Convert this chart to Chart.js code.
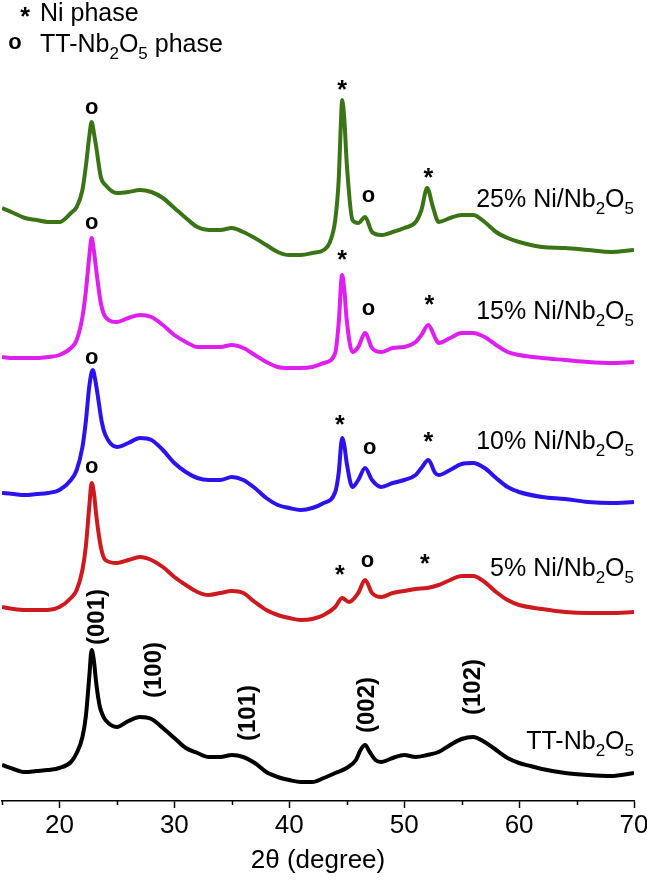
<!DOCTYPE html>
<html>
<head>
<meta charset="utf-8">
<script src="https://cdn.jsdelivr.net/npm/chart.js@4.4.0/dist/chart.umd.min.js"></script>
<style>
  html, body { margin: 0; padding: 0; background: #fff; overflow: hidden; }
  #wrap { width: 660px; height: 880px; }
</style>
</head>
<body>
<div id="wrap"><canvas id="xrd" width="660" height="880"></canvas></div>
<script>
// 1. DATA (2θ in degrees, intensity in a.u., each pattern stacked by an offset)
const sampleNames = ['TT-Nb_2O_5', '5% Ni/Nb_2O_5', '10% Ni/Nb_2O_5', '15% Ni/Nb_2O_5', '25% Ni/Nb_2O_5'];
const sampleColors = ['#000000', '#cc1a1f', '#2b12ee', '#dd1ff0', '#3b7417'];
const sampleOffsets = [0, 160, 270, 410, 540];

const angNb = [15,16,17,18,19,20,21,21.5,22,22.3,22.6,22.8,23,23.2,23.5,23.8,24,25,26,27,28,29,30,31,32,33,34,35,36,37,38,39,40,41,42,43,44,45,45.8,46.2,46.6,47,47.5,48,49,50,51,52,53,54,55,56,57,58,59,60,61,62,64,66,68,70];
const intNb = [36,32,29,30,31,33,39,48,64,85,125,151,140,118,95,85,81,74,80,84,82,73,63,53,48,44,44,46,44,38,29,24,21,19,19,23,28,33,41,51,56,49,41,39,43,46,44,46,49,56,62,64,59,51,43,38,35,32,28,26,25,28];

const ang5 = [15,16,17,18,19,20,21,21.5,22,22.3,22.6,22.8,23,23.2,23.6,24,25,26,27,28,29,30,31,32,33,34,35,36,37,38,39,40,41,42,43,44,44.6,45.2,46,46.6,47.2,48,49,50,51,52,53,54,55,56,57,58,59,60,62,64,66,68,70];
const int5 = [34,32,31,31,31,34,43,51,71,95,135,158,148,126,94,81,78,81,84,81,74,64,56,49,46,48,50,48,39,31,26,23,21,22,26,34,43,39,48,61,48,44,48,50,52,53,56,61,65,65,59,49,41,36,32,29,28,28,29];

const ang10 = [15,16,17,18,19,20,21,21.5,22,22.3,22.6,22.9,23.1,23.3,23.7,24,25,26,27,28,29,30,31,32,33,34,35,36,37,38,39,40,41,42,43,44,44.3,44.6,44.8,45,45.5,46,46.6,47.2,48,49,50,51,51.5,52.1,52.7,53,54,55,56,57,58,59,60,62,64,66,68,70];
const int10 = [38,37,36,37,38,41,51,61,84,110,145,161,152,138,108,96,84,88,93,91,81,68,59,53,51,51,54,51,43,33,26,23,21,23,28,39,58,93,85,68,44,51,63,51,44,48,51,56,63,71,58,56,61,67,68,63,53,44,39,34,32,29,28,29];

const ang15 = [15,16,17,18,19,20,21,21.5,22,22.3,22.6,22.8,23,23.2,23.6,24,25,26,27,28,29,30,31,32,33,34,35,36,37,38,39,40,41,42,43,44,44.3,44.6,44.8,45,45.5,46,46.6,47.2,48,49,50,51,51.5,52.1,52.7,53,54,55,56,57,58,59,60,62,64,66,68,70];
const int15 = [34,33,33,33,34,36,43,51,74,100,135,153,140,121,88,74,69,73,76,74,66,56,49,44,44,44,46,43,36,29,24,23,23,24,28,38,68,116,100,71,39,44,58,43,39,43,44,49,56,66,53,48,53,58,58,54,46,39,36,33,31,29,28,29];

const ang25 = [15,16,17,18,19,20,21,21.5,22,22.3,22.6,22.8,23,23.2,23.6,24,25,26,27,28,29,30,31,32,33,34,35,36,37,38,39,40,41,42,43,43.5,44,44.3,44.5,44.6,44.8,45,45.5,46,46.6,47.2,48,49,50,51,51.5,52,52.5,53,54,55,56,57,58,59,60,62,64,66,68,70];
const int25 = [53,48,43,41,39,39,48,54,71,95,125,139,128,114,84,76,68,69,71,69,63,53,43,34,31,31,33,29,23,16,9,6,6,8,11,18,41,81,140,161,140,98,41,38,44,29,26,29,33,39,51,73,54,39,43,46,46,39,29,23,19,14,13,11,9,11];

const sampleAngles = [angNb, ang5, ang10, ang15, ang25];
const sampleIntensities = [intNb, int5, int10, int15, int25];

// x axis
const xMin = 15, xMax = 70, xStep = 5;
const xTitle = '2θ (degree)';

// phase marks: [symbol, 2θ, level]
const phaseMarks = [
  ['o', 22.8, 693], ['*', 44.6, 716], ['o', 46.9, 605], ['*', 52.1, 628],
  ['o', 22.8, 578], ['*', 44.6, 546], ['o', 46.9, 492], ['*', 52.2, 501],
  ['o', 22.8, 443], ['*', 44.4, 381], ['o', 47.0, 353], ['*', 52.1, 364],
  ['o', 22.8, 334], ['*', 44.4, 231], ['o', 46.8, 240], ['*', 51.8, 242]
];
// hkl labels of TT-Nb2O5: [text, 2θ, level]
const hklMarks = [
  ['(001)', 23.3, 184], ['(100)', 28.25, 131], ['(101)', 36.4, 88],
  ['(002)', 46.8, 96], ['(102)', 56.0, 114]
];
// level of the sample name next to each pattern
const nameLevels = [61, 234, 361, 491, 603];
const legendItems = [['*', 'Ni phase'], ['o', 'TT-Nb_2O_5 phase']];

// 2. HELPERS
const FONT = '"Liberation Sans", Arial, sans-serif';
const isMajor = v => v % 10 === 0;

function drawCentered(ctx, s, px, py, font) {
  ctx.font = font;
  const m = ctx.measureText(s);
  ctx.textAlign = 'center';
  ctx.textBaseline = 'alphabetic';
  ctx.fillText(s, px, py + (m.actualBoundingBoxAscent - m.actualBoundingBoxDescent) / 2);
}

// '_' marks the next char as subscript
function splitRich(str) {
  const parts = [];
  for (let i = 0; i < str.length; i++) {
    if (str[i] === '_') { parts.push({ t: str[i + 1], sub: true }); i++; }
    else if (parts.length && !parts[parts.length - 1].sub) parts[parts.length - 1].t += str[i];
    else parts.push({ t: str[i], sub: false });
  }
  return parts;
}

function drawRich(ctx, str, x, baseline, size, align) {
  const parts = splitRich(str);
  const subSize = Math.round(size * 0.68);
  let total = 0;
  parts.forEach(p => {
    ctx.font = (p.sub ? subSize : size) + 'px ' + FONT;
    p.w = ctx.measureText(p.t).width;
    total += p.w;
  });
  let cx = align === 'right' ? x - total : x;
  ctx.textAlign = 'left';
  ctx.textBaseline = 'alphabetic';
  parts.forEach(p => {
    ctx.font = (p.sub ? subSize : size) + 'px ' + FONT;
    ctx.fillText(p.t, cx, baseline + (p.sub ? size * 0.28 : 0));
    cx += p.w;
  });
}

// 3. ANNOTATION PLUGIN
const annotatePlugin = {
  id: 'annotate',
  afterDatasetsDraw(chart) {
    const { ctx, scales: { x, y } } = chart;
    const labelSize = 25;
    ctx.save();
    ctx.fillStyle = '#000';

    // short minor ticks on the x axis
    ctx.strokeStyle = '#000';
    ctx.lineWidth = 1.5;
    x.ticks.forEach(t => {
      if (isMajor(t.value)) return;
      const px = Math.round(x.getPixelForValue(t.value)) + 0.5;
      ctx.beginPath();
      ctx.moveTo(px, x.top);
      ctx.lineTo(px, x.top + 4);
      ctx.stroke();
    });

    phaseMarks.forEach(([s, a, lv]) => {
      const f = s === '*' ? 'bold 25px ' + FONT : 'bold 22px ' + FONT;
      drawCentered(ctx, s, x.getPixelForValue(a), y.getPixelForValue(lv), f);
    });

    hklMarks.forEach(([s, a, lv]) => {
      ctx.save();
      ctx.translate(x.getPixelForValue(a), y.getPixelForValue(lv));
      ctx.rotate(-Math.PI / 2);
      ctx.font = 'bold 24px ' + FONT;
      ctx.textAlign = 'center';
      ctx.textBaseline = 'middle';
      ctx.fillText(s, 0, 0);
      ctx.restore();
    });

    sampleNames.forEach((n, i) => {
      const py = y.getPixelForValue(nameLevels[i]);
      drawRich(ctx, n, x.getPixelForValue(xMax), py + labelSize * 0.716 / 2, labelSize, 'right');
    });

    // legend in top left corner
    legendItems.forEach(([s, txt], i) => {
      const rowY = 12 + i * 31;
      drawCentered(ctx, s, s === '*' ? 25 : 15, rowY, (s === '*' ? 'bold 25px ' : 'bold 22px ') + FONT);
      drawRich(ctx, txt, 40, rowY + labelSize * 0.716 / 2, labelSize, 'left');
    });
    ctx.restore();
  }
};

// 4. CHART
const datasets = sampleNames.map((n, i) => ({
  label: n.replace(/_/g, ''),
  data: sampleAngles[i].map((a, k) => ({ x: a, y: sampleIntensities[i][k] + sampleOffsets[i] })),
  borderColor: sampleColors[i],
  borderWidth: 4,
  pointRadius: 0,
  fill: false,
  cubicInterpolationMode: 'monotone'
}));

new Chart(document.getElementById('xrd'), {
  type: 'line',
  data: { datasets },
  options: {
    responsive: false,
    animation: false,
    layout: { padding: { left: 2, right: 26, top: 0, bottom: 0 } },
    plugins: { legend: { display: false }, tooltip: { enabled: false } },
    scales: {
      x: {
        type: 'linear',
        min: xMin, max: xMax,
        afterFit: s => { s.height = 79; },
        ticks: {
          stepSize: xStep,
          autoSkip: false,
          maxRotation: 0,
          padding: 2,
          color: '#000',
          font: { family: FONT, size: 26 },
          callback: v => (isMajor(v) ? v : '')
        },
        grid: {
          drawOnChartArea: false, drawTicks: true, tickLength: 7, tickWidth: 1.5,
          tickColor: c => (c.tick && isMajor(c.tick.value) ? '#000' : 'rgba(0,0,0,0)')
        },
        border: { display: true, color: '#000', width: 1.5 },
        title: { display: true, text: xTitle, color: '#000', font: { family: FONT, size: 26 }, padding: { top: 2, bottom: 4 } }
      },
      y: { display: false, min: 0, max: 801 }
    }
  },
  plugins: [annotatePlugin]
});
</script>
</body>
</html>
